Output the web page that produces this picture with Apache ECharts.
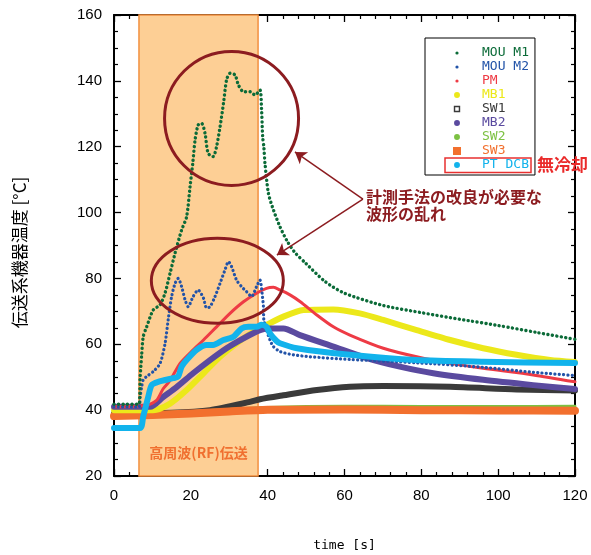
<!DOCTYPE html>
<html>
<head>
<meta charset="utf-8">
<script src="https://cdn.jsdelivr.net/npm/echarts@6/dist/echarts.min.js"></script>
<style>html,body{margin:0;padding:0;background:#fff}#c{width:591px;height:555px}</style>
</head>
<body>
<div id="c"></div>
<script>
// ---- data (time [s], temperature [°C]) ----
const tM1 = [0, 3, 6.5, 6.8, 7.2, 7.6, 8.5, 10.2, 12, 13.3, 14.6, 15.9, 17.6, 18.9, 19.8, 20.5, 21.1, 21.9, 22.8, 23.7, 24.5, 25.8, 26.7, 27.6, 28.5, 29.3, 30.2, 31.5, 32.4, 33.7, 35.4, 36.7, 38, 38.4, 38.7, 39, 39.3, 40.2, 41.5, 43.2, 45, 47, 50, 55, 60, 70, 80, 90, 100, 110, 120];
const vM1 = [41.8, 41.8, 41.8, 50, 56.7, 62.3, 65.3, 70.4, 72, 75.6, 81.6, 87.7, 94.7, 98.7, 107.9, 115, 122, 126.6, 127.1, 124, 118, 117, 120, 126, 133.2, 140.3, 142.3, 141.8, 138.7, 136.7, 136.7, 135.7, 137.2, 131.7, 123, 120, 115, 105.8, 100.8, 95.7, 91.5, 88, 84.5, 79, 75.5, 71.8, 69.6, 67.6, 65.7, 63.6, 61.5];

const tM2 = [0, 6.5, 6.8, 7.2, 7.6, 8.5, 10.2, 12, 13.3, 14.1, 15, 15.9, 16.7, 17.6, 18.5, 19.3, 20.6, 21.9, 23.3, 24.1, 25, 26.3, 27.6, 28.9, 29.8, 30.6, 31.9, 33.2, 34.5, 35.8, 37.1, 38, 38.4, 38.9, 39, 39.7, 40.6, 41.5, 43.2, 46.7, 51, 61.4, 78.8, 96.1, 109.1, 120];
const vM2 = [41, 41, 44, 47, 49.2, 50.2, 51.7, 54.2, 60.3, 67.4, 74.5, 78.5, 80, 77.5, 73.5, 71.4, 74.5, 76.5, 74, 71, 71.4, 74.5, 78.5, 82.6, 85.1, 83.6, 79.5, 77.5, 76, 74.5, 77.5, 79.5, 77, 71.4, 67.4, 64.3, 61.3, 59.3, 57.8, 56.8, 56.2, 55.4, 54.4, 53, 51.5, 50.5];

const tPM = [0, 8.5, 11.1, 12.8, 14.6, 17.2, 20.6, 23.3, 26.7, 30.2, 33.7, 37.1, 39.7, 41.5, 43.2, 45.8, 48.4, 52.8, 57.1, 61.4, 70.1, 78.8, 87.5, 96.1, 109.1, 120];
const vPM = [41, 41.5, 43, 46.5, 49, 54.2, 58.3, 61.3, 65.3, 69.4, 72.9, 75.5, 77, 77.3, 76.5, 75, 73, 68.9, 65.3, 62.8, 58.8, 56.2, 54.2, 52.7, 50.7, 48.6];

const tMB1 = [0, 10.2, 14.6, 18.9, 23.3, 27.6, 31.9, 36.3, 39.7, 44.1, 49.3, 57.1, 64, 70.1, 78.8, 87.5, 96.1, 104.8, 113.5, 120];
const vMB1 = [40, 40, 42, 46.1, 51.2, 56.2, 60.3, 63.8, 65.9, 68.4, 70.4, 70.6, 69.4, 67.4, 64.3, 61.3, 58.8, 56.8, 55.2, 54.6];

const tSW1 = [0, 15, 25, 35.4, 38, 44.1, 52.8, 61.4, 70.1, 87.5, 104.8, 120];
const vSW1 = [39, 39.2, 40, 42.5, 43.3, 44.5, 46.1, 47.1, 47.3, 47.1, 46.3, 46];

const tMB2 = [0, 9.4, 12.8, 16.3, 20.6, 25, 29.3, 33.7, 38, 40.6, 44.1, 48.4, 57.1, 65.8, 74.4, 83.1, 96.1, 109.1, 120];
const vMB2 = [41, 41, 44, 47, 51.2, 55.2, 58.8, 61.8, 64.3, 64.8, 64.8, 62.8, 59.3, 55.8, 53.2, 51.2, 49.2, 47.6, 46.4];

const tSW2 = [0, 20, 40, 60, 80, 100, 120];
const vSW2 = [38.8, 39.6, 40.8, 41.2, 41.1, 41.1, 41.2];

const tSW3 = [0, 10, 20, 30, 40, 60, 80, 100, 120];
const vSW3 = [38.2, 38.5, 39.0, 39.6, 40.1, 40.2, 40.0, 39.9, 39.8];

const tDCB = [0, 6.8, 7.6, 8.9, 9.8, 11.5, 15.4, 16.7, 17.6, 18.9, 21.5, 24.1, 25.8, 28.5, 31.1, 33.2, 35, 37.1, 38.4, 39.7, 40.6, 42.3, 43.2, 47.6, 61.4, 78.8, 96.1, 120];
const vDCB = [34.6, 34.6, 38, 44, 47.6, 48.6, 49.7, 50.2, 53.2, 55.2, 58.3, 59.8, 59.8, 61.3, 62.3, 64.8, 65.3, 65.3, 65.9, 65.3, 63.3, 61, 60.3, 58.8, 56.8, 55.2, 54.7, 54.3];

const seriesNames = ['MOU M1', 'MOU M2', 'PM', 'MB1', 'SW1', 'MB2', 'SW2', 'SW3', 'PT DCB'];
const rfBand = [6.5, 37.5];          // RF transmission period [s]
const xTicks = {min: 0, max: 120, interval: 20};
const yTicks = {min: 20, max: 160, interval: 20};
const circleCenter = [30.6, 128.6];   // annotation circle (data coords)
const ellipseCenter = [26.9, 79.3];   // annotation ellipse (data coords)
const arrowFrom = [64.8, 104.1];
const arrowTo1 = [47.1, 118.4];
const arrowTo2 = [42.4, 87.1];

// ---- styles ----
const C = {
  'MOU M1': '#0b6b38', 'MOU M2': '#2253a8', 'PM': '#ee3b45', 'MB1': '#ece81a', 'SW1': '#3a3a3a',
  'MB2': '#5a4a9f', 'SW2': '#7cc142', 'SW3': '#f2702e', 'PT DCB': '#12b3ec'
};
const DARKRED = '#8c1c20';
const pairs = (t, v) => t.map((x, i) => [x, v[i]]);

const smallDot = 'path://M0,0M10,10M5,3a2,2 0 1,1 0,4a2,2 0 1,1 0,-4z';
const bigDot = 'path://M0,0M10,10M5,1.3a3.7,3.7 0 1,1 0,7.4a3.7,3.7 0 1,1 0,-7.4z';
const hollowSq = 'path://M0,0M10,10M1,1h8v8h-8zM2.8,2.8v4.4h4.4v-4.4z';
const fullSq = 'path://M0,0h10v10h-10z';
const icons = {'MOU M1': smallDot, 'MOU M2': smallDot, 'PM': smallDot, 'MB1': bigDot, 'SW1': hollowSq,
  'MB2': bigDot, 'SW2': bigDot, 'SW3': fullSq, 'PT DCB': bigDot};

function mkLine(name, t, v, width, extra) {
  return Object.assign({
    name, type: 'line', data: pairs(t, v), showSymbol: false, symbol: 'circle', smooth: 0.25,
    xAxisIndex: 0, yAxisIndex: 0,
    itemStyle: {color: C[name]},
    lineStyle: {color: C[name], width: width, cap: 'round', join: 'round'},
    emphasis: {disabled: true}, silent: true
  }, extra || {});
}

const tickFont = {fontFamily: "'Liberation Sans',sans-serif", fontSize: 15, color: '#000'};

function axisCommon(showLabel, split) {
  return {
    axisLine: {show: true, onZero: false, lineStyle: {color: '#000', width: 2}},
    axisTick: {show: true, inside: true, length: 7, lineStyle: {color: '#000', width: 1.3}},
    minorTick: {show: true, splitNumber: split, length: 4, lineStyle: {color: '#000', width: 1.2}},
    splitLine: {show: false}, minorSplitLine: {show: false},
    axisLabel: Object.assign({show: showLabel, margin: 12}, tickFont),
    nameMoveOverlap: false
  };
}

const chart = echarts.init(document.getElementById('c'), null, {renderer: 'canvas'});

const option = {
  animation: false,
  backgroundColor: '#fff',
  grid: {left: 114, right: 16, top: 15, bottom: 79, containLabel: false, outerBoundsMode: 'none'},
  xAxis: [
    Object.assign({type: 'value', position: 'bottom', min: xTicks.min, max: xTicks.max, interval: xTicks.interval,
      name: 'time [s]', nameLocation: 'middle', nameGap: 63,
      nameTextStyle: {fontFamily: "'DejaVu Sans Mono',monospace", fontSize: 13, color: '#000'}},
      axisCommon(true, 5)),
    Object.assign({type: 'value', position: 'top', min: xTicks.min, max: xTicks.max, interval: xTicks.interval},
      axisCommon(false, 5))
  ],
  yAxis: [
    Object.assign({type: 'value', position: 'left', min: yTicks.min, max: yTicks.max, interval: yTicks.interval,
      name: '伝送系機器温度 [°C]', nameLocation: 'middle', nameGap: 86, nameRotate: 90,
      nameTextStyle: {fontFamily: "'Noto Sans CJK JP',sans-serif", fontSize: 17, color: '#000', padding: [0, 14, 0, 0]}},
      axisCommon(true, 4)),
    Object.assign({type: 'value', position: 'right', min: yTicks.min, max: yTicks.max, interval: yTicks.interval},
      axisCommon(false, 4))
  ],
  legend: {
    orient: 'vertical', left: 425, top: 38, padding: [8, 6, 3, 28], itemGap: 0, itemWidth: 40, itemHeight: 8,
    borderColor: '#000', borderWidth: 1, backgroundColor: '#fff', selectedMode: false,
    textStyle: {fontFamily: "'DejaVu Sans Mono',monospace", fontSize: 13, lineHeight: 14},
    data: seriesNames.map(n => ({name: n, icon: icons[n], itemStyle: {color: C[n], borderWidth: 0}, textStyle: {color: C[n]}}))
  },
  series: [
    mkLine('SW1', tSW1, vSW1, 6, {
      markArea: {
        silent: true,
        itemStyle: {color: '#fdcf95', borderColor: '#f29040', borderWidth: 1.5},
        label: {show: true, position: 'insideBottom', distance: 17, color: '#f07030', fontWeight: 'bold',
          fontSize: 14, fontFamily: "'Noto Sans CJK JP',sans-serif"},
        data: [[{xAxis: rfBand[0], yAxis: yTicks.min, name: '高周波(RF)伝送'}, {xAxis: rfBand[1], yAxis: yTicks.max}]]
      }
    }),
    mkLine('SW2', tSW2, vSW2, 3),
    mkLine('SW3', tSW3, vSW3, 8),
    mkLine('MB1', tMB1, vMB1, 6),
    mkLine('MB2', tMB2, vMB2, 6),
    mkLine('PM', tPM, vPM, 3),
    mkLine('MOU M2', tM2, vM2, 3.2, {lineStyle: {color: C['MOU M2'], width: 3.2, type: [0.1, 4.2], cap: 'round'}}),
    mkLine('MOU M1', tM1, vM1, 3.4, {
      lineStyle: {color: C['MOU M1'], width: 3.4, type: [0.1, 4.4], cap: 'round'},
      markLine: {
        silent: true, animation: false, symbol: ['none', 'arrow'], symbolSize: 11,
        lineStyle: {color: DARKRED, width: 1.5, type: 'solid'},
        label: {show: false}, emphasis: {disabled: true},
        data: [
          [{coord: arrowFrom}, {coord: arrowTo1}],
          [{coord: arrowFrom}, {coord: arrowTo2}]
        ]
      }
    }),
    mkLine('PT DCB', tDCB, vDCB, 6)
  ]
};
chart.setOption(option);

const cc = chart.convertToPixel({gridIndex: 0}, circleCenter);
const ec = chart.convertToPixel({gridIndex: 0}, ellipseCenter);
chart.setOption({
  graphic: [
    {type: 'circle', shape: {cx: cc[0], cy: cc[1], r: 67}, style: {fill: 'none', stroke: DARKRED, lineWidth: 3}, z: 100, silent: true},
    {type: 'ellipse', shape: {cx: ec[0], cy: ec[1], rx: 66, ry: 42.5}, style: {fill: 'none', stroke: DARKRED, lineWidth: 3}, z: 100, silent: true},
    {type: 'text', left: 366, top: 188, z: 100, silent: true,
      style: {text: '計測手法の改良が必要な\n波形の乱れ', fill: DARKRED, font: "bold 16px 'Noto Sans CJK JP'", lineHeight: 17}},
    {type: 'rect', shape: {x: 445, y: 158, width: 86, height: 14.5}, style: {fill: 'none', stroke: '#e83030', lineWidth: 1.5}, z: 100, silent: true},
    {type: 'text', left: 537, top: 156, z: 100, silent: true,
      style: {text: '無冷却', fill: '#ea2a2a', font: "bold 17px 'Noto Sans CJK JP'"}}
  ]
});
</script>
</body>
</html>
